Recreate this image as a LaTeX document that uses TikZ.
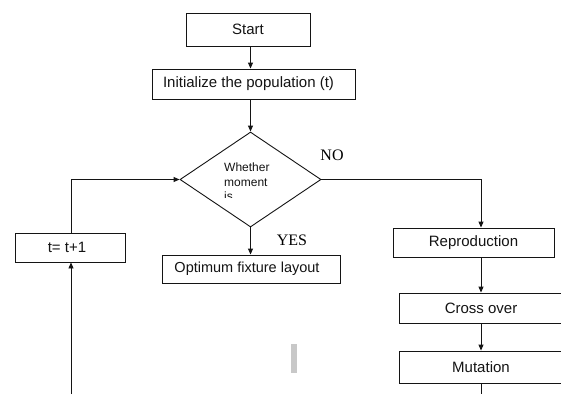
\documentclass[tikz,border=0pt]{standalone}
\usepackage{fontspec}
\setmainfont{Liberation Sans}
\newfontfamily\serifnm{Liberation Serif}
\usetikzlibrary{shapes.geometric,arrows.meta}
\definecolor{barcol}{RGB}{200,200,200}
\definecolor{linecol}{RGB}{20,20,20}
\tikzset{
  procbox/.style={draw=linecol, line width=0.9pt, inner sep=0pt, text=linecol, font=\fontsize{15}{17}\selectfont},
  flow/.style={draw=linecol, line width=0.9pt, -{Triangle[length=6pt,width=5pt]}},
  plain/.style={draw=linecol, line width=0.9pt},
  yesno/.style={font=\serifnm\fontsize{16}{18}\selectfont, inner sep=0pt}
}
\begin{document}
\begin{tikzpicture}[x=1pt,y=-1pt]
\useasboundingbox (0,0) rectangle (561,394);
\fill[white] (0,0) rectangle (561,394);
\begin{scope}
\clip (0,0) rectangle (561,394);
\node[procbox, minimum width=124pt, minimum height=33pt] (start) at (248,29.5) {Start};
\node[procbox, minimum width=203pt, minimum height=30pt] (init) at (253.5,84) {\hspace*{-5pt}Initialize the population (t)\hspace*{5pt}};
\node[draw=linecol, line width=0.9pt, shape=diamond, minimum width=141pt, minimum height=95pt, inner sep=0pt] (dia) at (250.5,179.5) {};
\node[procbox, minimum width=178pt, minimum height=28pt, font=\fontsize{14.5}{16}\selectfont] (opt) at (251,269) {\hspace*{-4pt}Optimum fixture layout\hspace*{4pt}};
\node[procbox, minimum width=110pt, minimum height=29pt] (tbox) at (70,247.5) {\hspace*{-3pt}t= t+1\hspace*{3pt}};
\node[procbox, minimum width=161pt, minimum height=29pt] (repro) at (473.5,242.5) {Reproduction};
\node[procbox, minimum width=164pt, minimum height=30pt] (cross) at (481,308) {Cross over};
\node[procbox, minimum width=164pt, minimum height=32pt] (mut) at (481,367) {Mutation};
\end{scope}
\begin{scope}
\clip (200,150) rectangle (300,197);
\node[anchor=north west, align=left, inner sep=0pt, text=linecol, font=\fontsize{12}{14.5}\selectfont] (dtext) at (224,163) {Whether\\moment\\is};
\end{scope}
\node[yesno] (no) at (332,155) {NO};
\node[yesno] (yes) at (292,240) {YES};
\coordinate (bl) at (71,394);
\coordinate (br) at (481,394);
\draw[flow] (start.south -| dia.north) -- (init.north -| dia.north);
\draw[flow] (init.south -| dia.north) -- (dia.north);
\draw[flow] (dia.south) -- (opt.north -| dia.south);
\draw[flow] (dia.east) -| (cross.north |- repro.north);
\draw[flow] (repro.south -| cross.north) -- (cross.north);
\draw[flow] (cross.south) -- (mut.north);
\draw[plain] (mut.south) -- (br);
\draw[flow] (tbox.north -| bl) |- (dia.west);
\draw[flow] (bl) -- (tbox.south -| bl);
\fill[barcol] (291,344) rectangle (297,373);
\end{tikzpicture}
\end{document}
